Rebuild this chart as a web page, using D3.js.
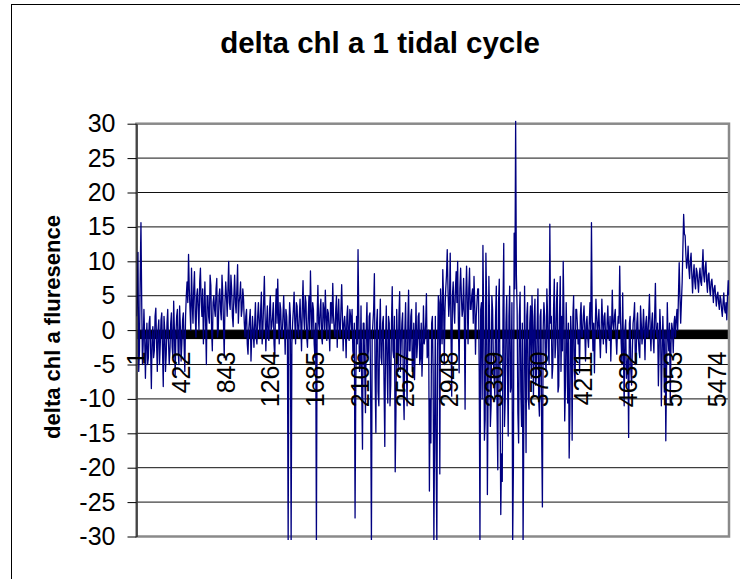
<!DOCTYPE html>
<html>

<head>
  <meta charset="UTF-8">
  <script src="https://d3js.org/d3.v7.min.js"></script>
  <style>
    body { margin: 0; background: #fff; }
    text { font-family: "Liberation Sans", Arial, sans-serif; }
  </style>
</head>

<body>
  <div id="chart"></div>

  <script>
    // data: readings every 7th sample, estimated from the original chart.
    // "A" arrays hold samples 1, 15, 29, ...; "B" arrays the ones in between (8, 22, 36, ...)

    const nSamples = 5580;
    const step = 7;

    const startA = [2, 11.3, -3, 15.6, -5, 3];
    const startB = [5, -6, 8, 4, -2, -1];

    const earlyA = [-7, 1, -4, 2, -8.5, 0.5, -3, 3.2, -6, 1.5, -2, 2.5, -8.2, 0, -3.5,
      3, -5, 1, -2.5, 4.2, -6.5, 2, -3, 3.5, -4.5, 1.5, -2];
    const earlyB = [-2, -5, 1, -3, -1, -4, 2, -2, 0, -5, 1.5, -3, 2, -6, 1,
      -1.5, -3, 2.5, -4, 0, -1, 3, -5, 0.5, -2, 2.5, -6];

    const rise1A = [2, 7, 11, 3, 9, 1, 8.5, -1, 6, 0, 9, 2, -2, 7, -5, 5, 1, 6.5, -3, 5,
      2, 7.5, 0, 6, 1.5, 5.5, -4, 7, 2, 10, 3, 6, 0.5, 8, 2.5, 9.5, 4, 7, 3];
    const rise1B = [5, 4, 6, 0, 4, 6, 2, 5, 3, 7, 4, 6, 3, 1, 5, 2, 8, 0, 4, 3,
      6, -1, 5, 3, 8, 1, 4, 5, 6, 4, 8, 2, 5, 4, 6, 1, 5, 2, 6];

    const dip1A = [4.5, -1, 3, -3.5, 1.5, -4.5, 2, -2.5, 4];
    const dip1B = [1, 2, -2, 0, 3, -1, 0, 1, -1];

    const mid1A = [-2, 4, -1, 5.5, 0, 7.8, -3, 3.5, -1.5, 5,
      0.5, 4, -4, 6, 7.4, -2, 3, -1, 5, -3.5,
      2, -31, 4, -31, 1, 5.5, -2, 3.5, -1, 4.5,
      -3, 7.2, 0, 4, -2.5, 5, 8.6, -1, 3, -4,
      -31, 6.5, 0, 4.5, -2, 3, 5.8, -1.5, 2.5, -3,
      4, 6.8, 0, 3, -2.5, 4.5, -1, 6.6, -3, 2,
      -4, 3.5, -1.5, 2];
    const mid1B = [2, 1, 3, -2, 4, 2, 1, -1, 3, 0,
      2, -2, 3, 1, 2, 4, -1, 2, 1, 3,
      -1, 0, 2, -2, 3, 1, 4, 0, 2, 1,
      3, 2, 5, -1, 2, 0, 3, 4, -2, 1,
      2, 1, 3, -1, 4, 0, 2, 3, 0, 4,
      1, 2, -1, 5, 2, 0, 3, 2, 1, 0,
      2, -1, 3, 0];

    const noisy1A = [3, -4, -27.3, 2, 11.7, -6, 3.5, -17.3, 1, -12,
      4, -3, 2.5, -31, 1, 8.2, -14.9, 3, -11, 4.5,
      -5, 2, -16.9, 3.5, -10.6, 1, -8, 6.3, -4, -20.6,
      3, -6, 5.6, -2, 2.5, -13, 4, -11, 5.8, -3,
      3, -5, -7.2, 4, -2, 2.5, -4, -6.7, 3.5, -1,
      5.3, -3.3, -23.4, -16.4, 2, -31];
    const noisy1B = [-3, 1, -8, -2, 2, -5, -9, 1, -6, 0,
      -4, 2, -10, -1, 3, -7, 1, -9, 0, -4,
      1, -8, -2, -5, 2, -11, 1, -3, 2, -12,
      -2, 2, -6, 1, -9, 0, -5, 1, -3, 2,
      -6, 1, -2, -4, 2, -5, 1, -3, -2, 1,
      -4, 0, -10, 1, -6, -14];

    const rise2A = [2, -31, 5, -20.9, 3, 8.8, -5, 6, 11.7, 2,
      11.2, -9.6, 7, 1, 8.5, 10, -6.2, 9, 2, 7.5,
      -11.5, 9.3, -2, 9, 3, 6, 7.8, -3.5, 4];
    const rise2B = [-18, -3, 4, 6, -2, 5, 3, 8, 6, 4,
      0, 5, 3, 6, 4, 1, 6, 5, 3, 2,
      5, 4, 6, 3, 5, 1, 4, 2, 6];

    const wildA = [6, -31, 4, 12.3, -16, 11.2, -23.9, 7.8, -14, 5,
      -4, -9.6, 6.4, -20.3, 7.4, -26.8, -22, 12.6, -10, 5,
      -15.4, 6.4, -8, -31, 14.1, 30.4, 3, -16.4, 5.5, -14,
      -31, 6.4, -17.8, 4, -11.5, 3.5, 5, -9.6, 4.5, -6.2,
      6, -12.5, 3, -25.7, 4, -4.3];
    const wildB = [-6, 3, -10, 2, -13, 4, -8, 1, -11, 3,
      -7, 2, -12, 4, -9, -18, 3, -14, 1, -6,
      2, -9, 4, -20, 6, 8, -12, 2, -9, 1,
      -14, -3, 2, -10, 1, -7, 0, 2, -8, 1,
      -10, 2, -15, 0, 2, -6];

    const mid2A = [6, -3, 15.4, 2, -5.2, 7.4, -2, 6.9, -8.1, 7.8,
      2, 10, -13.2, 4, -10.6, -18.6, 2, -16, 5, -8];
    const mid2B = [2, -5, 1, -7, 3, -4, 4, -9, 2, -6,
      -3, 2, -8, -2, 1, -12, -1, 2, -6, 3];

    const calmA = [3, -2, -6.2, 4, -1, 3.5, -4.5, 2, -2.5, 4,
      15.6, -3, -6.2, 4.5, -1, 3, -4, 4.5, -2, 2.5,
      -3.3, 3.5, -1.5, -4.5, 5.8, 0, 3, -3.5, 2];
    const calmB = [1, 0, 2, -1, 2, 0, 1, -1, 1, 0,
      2, 1, 0, 2, 1, -1, 0, 1, 2, -1,
      1, 0, 2, 0, 1, 2, -1, 0, 1];

    const lateA = [9.3, -2, 5.4, -11, 1.5, -5, -15.6, 2, -8, 1, 4, -4.7, 2.5, -3, 3.5, -2];
    const lateB = [2, -5, -3, 0, -7, -4, 1, -6, -3, 2, -5, 1, -1, -4, 1, 0];

    const preRiseA = [3, -4.3, 2, -1, 5.2, -3, 2.5, -3.3, 6.8, -1,
      -8.1, 3, -11, 2, -9, -16.1, 4, -3, -10.6, 1,
      -3.3, 2, 1.5, 0];
    const preRiseB = [0, 1, -1, 2, 0, 1, -1, 2, 0, 1,
      -3, 0, -4, -2, 0, -6, -1, 1, -2, 0,
      1, -1, 3, 5];

    const tailA = [9.8, 1, 7, 16.8, 13.7, 9, 12.2, 7.5, 11.2, 5.4,
      9.5, 6, 8.5, 5.5, 9, 6.5, 11.7, 7, 10, 5.5,
      8.3, 5, 7.4, 4, 6.5, 3.5, 5.5, 3, 4.5, 2,
      5.4, 2.5, 1.5, 7.2];
    const tailB = [5, 4, 12, 14, 11, 10, 9, 10, 8, 8,
      7, 9, 7, 8, 7, 9, 8, 9, 7, 8,
      6, 7, 6, 6, 5, 5, 4, 5, 3, 4,
      3, 4, 5, 5];

    const readingsA = [].concat(startA, earlyA, rise1A, dip1A, mid1A, noisy1A, rise2A,
      wildA, mid2A, calmA, lateA, preRiseA, tailA);
    const readingsB = [].concat(startB, earlyB, rise1B, dip1B, mid1B, noisy1B, rise2B,
      wildB, mid2B, calmB, lateB, preRiseB, tailB);

    // put the two sets back in sample order
    const chl = readingsA.flatMap((v, i) => [v, readingsB[i]]);

    const xTickLabels = [1, 422, 843, 1264, 1685, 2106, 2527, 2948, 3369, 3790, 4211, 4632, 5053, 5474];
    const yTicks = [-30, -25, -20, -15, -10, -5, 0, 5, 10, 15, 20, 25, 30];

    // set up

    const W = 740, H = 579;
    const margin = { top: 123.7, right: 11, bottom: 42.5, left: 136.5 };
    const width = W - margin.left - margin.right;
    const height = H - margin.top - margin.bottom;
    const font = '"Liberation Sans", Arial, sans-serif';

    const root = d3.select('#chart')
      .append('svg')
        .attr('width', W)
        .attr('height', H);

    // chart frame, runs off the right and bottom
    root.append('rect')
        .attr('x', 11.5)
        .attr('y', 4.5)
        .attr('width', W)
        .attr('height', H)
        .attr('fill', 'none')
        .attr('stroke', '#000');

    root.append('text')
        .attr('x', 380)
        .attr('y', 53)
        .attr('text-anchor', 'middle')
        .attr('font-size', 29.5)
        .attr('font-weight', 'bold')
        .text('delta chl a 1 tidal cycle');

    root.append('text')
        .attr('transform', 'translate(52,327) rotate(-90)')
        .attr('text-anchor', 'middle')
        .attr('dy', '0.35em')
        .attr('font-size', 22)
        .attr('font-weight', 'bold')
        .text('delta chl a fluresence');

    const svg = root.append('g')
        .attr('transform', `translate(${margin.left},${margin.top})`);

    // scales

    const x = d3.scaleLinear()
        .domain([1, nSamples])
        .range([0, width]);

    const y = d3.scaleLinear()
        .domain([-30, 30])
        .range([height, 0]);

    // grid

    svg.append('g')
      .selectAll('line')
      .data(yTicks.filter(d => d > -30 && d < 30))
      .join('line')
        .attr('x1', 0)
        .attr('x2', width)
        .attr('y1', d => y(d))
        .attr('y2', d => y(d))
        .attr('stroke', '#111');

    // heavy category axis at zero
    svg.append('rect')
        .attr('x', 0)
        .attr('y', y(0))
        .attr('width', width)
        .attr('height', 9)
        .attr('fill', '#000');

    svg.append('rect')
        .attr('width', width)
        .attr('height', height)
        .attr('fill', 'none')
        .attr('stroke', '#8a8a8a')
        .attr('stroke-width', 2.5);

    // the series

    svg.append('clipPath')
        .attr('id', 'plot-clip')
      .append('rect')
        .attr('x', 0)
        .attr('y', -3)
        .attr('width', width)
        .attr('height', height + 6.5);

    const line = d3.line()
        .x((d, i) => x(1 + i * step))
        .y(d => y(d));

    svg.append('path')
        .datum(chl)
        .attr('clip-path', 'url(#plot-clip)')
        .attr('fill', 'none')
        .attr('stroke', '#000080')
        .attr('stroke-width', 1.3)
        .attr('stroke-linejoin', 'round')
        .attr('d', line);

    // axes

    const yAxis = d3.axisLeft(y)
        .tickValues(yTicks)
        .tickSize(9)
        .tickSizeOuter(0)
        .tickPadding(12)
        .tickFormat(d => String(d));

    svg.append('g')
        .call(yAxis)
        .attr('font-size', 25)
        .attr('font-family', font)
        .call(g => g.selectAll('text').attr('fill', '#000'));

    svg.append('g')
      .selectAll('text')
      .data(xTickLabels)
      .join('text')
        .attr('transform', d => `translate(${x(d)},${y(0) + 21.5}) rotate(-90)`)
        .attr('text-anchor', 'end')
        .attr('dy', '0.35em')
        .attr('font-size', 25)
        .text(d => d);
  </script>
</body>

</html>
